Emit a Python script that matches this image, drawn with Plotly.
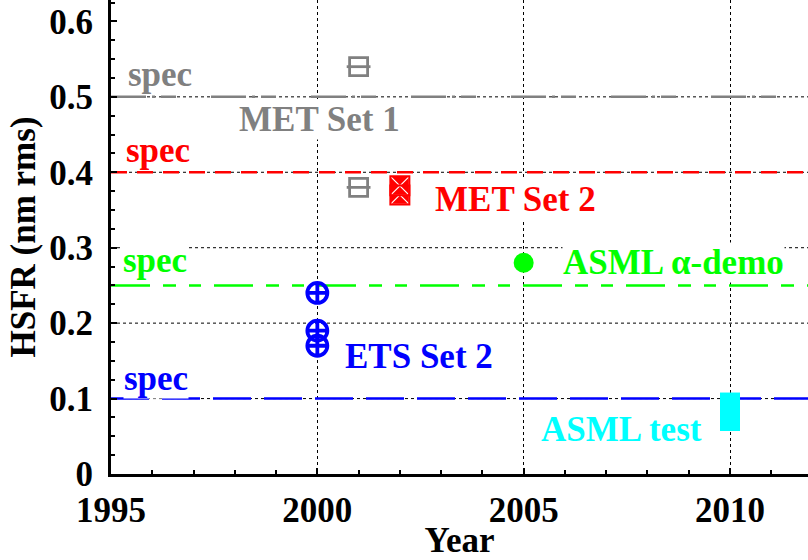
import plotly.graph_objects as go

# ---- data -------------------------------------------------------------
met1_year = [2001, 2001]
met1_hsfr = [0.54, 0.38]

met2_year = [2002, 2002]
met2_hsfr = [0.37, 0.382]

ets2_year = [2000, 2000, 2000]
ets2_hsfr = [0.24, 0.19, 0.17]

alpha_year = [2005]
alpha_hsfr = [0.28]

asml_test_year = [2010, 2010]
asml_test_hsfr = [0.057, 0.108]   # low / high of measured range

spec_levels = [0.5, 0.4, 0.25, 0.1]
spec_colors = ["#808080", "#ff0000", "#00ff00", "#0000ff"]
spec_dashes = ["35px,6px,3px,6px,15px,35px", "16px,10px",
               "39px,13px,13px,13px,12px,13px", "38px,13px"]

x_ticks = [1995, 2000, 2005, 2010]
y_ticks = [0, 0.1, 0.2, 0.3, 0.4, 0.5, 0.6]
y_grid = [0.1, 0.2, 0.3, 0.4, 0.5]

FONT = "Liberation Serif"
FS = 35

fig = go.Figure()

# horizontal dotted grid
for g in y_grid:
    fig.add_shape(type="line", xref="paper", x0=0, x1=1, yref="y", y0=g, y1=g,
                  line=dict(color="black", width=1, dash="dot"), layer="below")

# specification levels
for lvl, col, dash in zip(spec_levels, spec_colors, spec_dashes):
    fig.add_trace(go.Scatter(x=[1995, 2013], y=[lvl, lvl], mode="lines",
                             line=dict(color=col, width=2.5, dash=dash),
                             hoverinfo="skip"))

# ASML test range bar
fig.add_trace(go.Scatter(x=asml_test_year, y=asml_test_hsfr, mode="lines",
                         line=dict(color="#00ffff", width=20)))

# MET Set 1 : square with horizontal bar
fig.add_trace(go.Scatter(x=met1_year, y=met1_hsfr, mode="markers",
                         marker=dict(symbol="square-open", size=18, color="#808080",
                                     line=dict(color="#808080", width=2.8))))
fig.add_trace(go.Scatter(x=met1_year, y=met1_hsfr, mode="markers",
                         marker=dict(symbol="line-ew", size=17,
                                     line=dict(color="#808080", width=2.8))))

# MET Set 2 : filled squares with crossed hatching
fig.add_trace(go.Scatter(x=met2_year, y=met2_hsfr, mode="markers",
                         marker=dict(symbol="square-x", size=19, color="#ff0000",
                                     line=dict(color="white", width=1.2))))
fig.add_trace(go.Scatter(x=met2_year, y=met2_hsfr, mode="markers",
                         marker=dict(symbol="square-open", size=19, color="#ff0000",
                                     line=dict(color="#ff0000", width=2))))

# ETS Set 2 : crossed circles
fig.add_trace(go.Scatter(x=ets2_year, y=ets2_hsfr, mode="markers",
                         marker=dict(symbol="circle-cross-open", size=20, color="#0000ff",
                                     line=dict(color="#0000ff", width=3.8))))

# ASML alpha-demo
fig.add_trace(go.Scatter(x=alpha_year, y=alpha_hsfr, mode="markers",
                         marker=dict(symbol="circle", size=20, color="#00ff00")))

# ---- labels -----------------------------------------------------------
labels = [
    ("spec", 1996.19, 0.530, "#808080"),
    ("spec", 1996.14, 0.4285, "#ff0000"),
    ("spec", 1996.07, 0.2826, "#00ff00"),
    ("spec", 1996.09, 0.126, "#0000ff"),
    ("MET Set 1", 2000.06, 0.47, "#808080"),
    ("MET Set 2", 2004.79, 0.364, "#ff0000"),
    ("ASML α-demo", 2008.62, 0.281, "#00ff00"),
    ("ETS Set 2", 2002.46, 0.156, "#0000ff"),
    ("ASML test", 2007.36, 0.059, "#00ffff"),
]
for txt, x, y, col in labels:
    fig.add_annotation(x=x, y=y, text=txt, showarrow=False, xanchor="center",
                       yanchor="middle", bgcolor="white", borderpad=0,
                       font=dict(family=FONT, size=FS, color=col, weight="bold"))

axis_common = dict(
    showline=True, linecolor="black", linewidth=3,
    ticks="inside", ticklen=6, tickwidth=2, tickcolor="black",
    zeroline=False, mirror=False,
    tickfont=dict(family=FONT, size=FS, color="black", weight="bold"),
)

fig.update_layout(
    width=808, height=560,
    margin=dict(l=111, r=0, t=0, b=86),
    paper_bgcolor="white", plot_bgcolor="white",
    showlegend=False,
    font=dict(family=FONT, color="black"),
    xaxis=dict(range=[1995, 2011.89], tickvals=x_ticks, tickformat="d",
               showgrid=True, gridcolor="black", gridwidth=1, griddash="dot",
               minor=dict(dtick=1, ticks="inside", ticklen=4, tickwidth=2,
                          tickcolor="black", showgrid=False),
               ticklabelstandoff=3,
               title=dict(text="Year", standoff=6,
                          font=dict(family=FONT, size=FS, color="black", weight="bold")),
               **axis_common),
    yaxis=dict(range=[0, 0.6284], tickvals=y_ticks, showgrid=False,
               minor=dict(dtick=0.025, ticks="inside", ticklen=4, tickwidth=2,
                          tickcolor="black", showgrid=False),
               ticklabelstandoff=8,
               title=dict(text="HSFR (nm rms)", standoff=4,
                          font=dict(family=FONT, size=FS, color="black", weight="bold")),
               **axis_common),
)

fig.write_html("out.html")
